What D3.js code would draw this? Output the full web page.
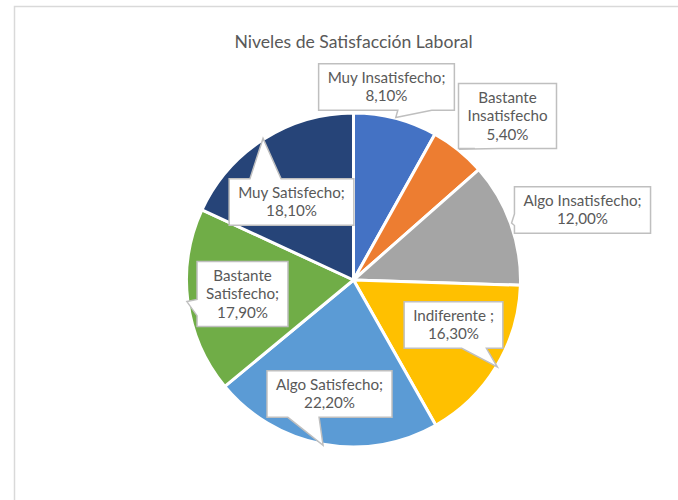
<!DOCTYPE html>
<html>
<head>
<meta charset="utf-8">
<script src="https://cdn.jsdelivr.net/npm/d3@7"></script>
<style>
  html, body { margin: 0; padding: 0; background: #fff; }
  svg { display: block; }
</style>
</head>
<body>
<svg id="chart" width="678" height="500"></svg>
<script>
// data
const categories = [
  "Muy Insatisfecho",
  "Bastante\nInsatisfecho",
  "Algo Insatisfecho",
  "Indiferente ",
  "Algo Satisfecho",
  "Bastante\nSatisfecho",
  "Muy Satisfecho"
];
const values = [8.1, 5.4, 12.0, 16.3, 22.2, 17.9, 18.1];
const separators = [";\n", "\n", ";\n", ";\n", ";\n", ";\n", ";\n"];
const colors = ["#4472C4", "#ED7D31", "#A5A5A5", "#FFC000", "#5B9BD5", "#70AD47", "#264478"];
const title = "Niveles de Satisfacción Laboral";

// label box centres, offset from pie centre (layout only)
const labelOffsets = [
  [33, -193], [154, -164], [229, -70], [100, 45], [-24, 114], [-111, 14], [-62, -78]
];

const W = 678, H = 500;
const CX = 353.5, CY = 280, R = 167;
const FONT = "Lato, 'Open Sans', sans-serif";
const TEXT = "#595959";
const LINE_H = 18.3;

const svg = d3.select("#chart");

// chart area frame
svg.append("rect")
  .attr("x", 14.5)
  .attr("y", 6.5)
  .attr("width", W + 20)
  .attr("height", H + 20)
  .attr("fill", "#fff")
  .attr("stroke", "#d9d9d9")
  .attr("stroke-width", 1.5);

svg.append("text")
  .attr("x", CX)
  .attr("y", 47.5)
  .attr("text-anchor", "middle")
  .attr("font-family", FONT)
  .attr("font-size", 17.6)
  .attr("fill", TEXT)
  .text(title);

const pct = v => d3.format(".2f")(v).replace(".", ",") + "%";

const rows = categories.map((c, i) => ({
  name: c,
  value: values[i],
  color: colors[i],
  lines: (c + separators[i] + pct(values[i])).split("\n"),
  offset: labelOffsets[i]
}));

const pie = d3.pie().sort(null).value(d => d.value);
const arc = d3.arc().innerRadius(0).outerRadius(R);
const arcs = pie(rows);

const g = svg.append("g").attr("transform", `translate(${CX},${CY})`);

g.selectAll(".slice")
  .data(arcs)
  .enter()
  .append("path")
  .attr("class", "slice")
  .attr("d", arc)
  .attr("fill", d => d.data.color)
  .attr("stroke", "#fff")
  .attr("stroke-width", 3)
  .attr("stroke-linejoin", "round");

// wedgeRectCallout outline, box centred at (cx, cy), tip at (tx, ty)
function callout(cx, cy, w, h, tx, ty) {
  const l = cx - w / 2, r = cx + w / 2, t = cy - h / 2, b = cy + h / 2;
  const dx = tx - cx, dy = ty - cy;
  const dq = dx * h / w;
  const xb1 = dx > 0 ? l + w * 7 / 12 : l + w * 2 / 12;
  const xb2 = dx > 0 ? l + w * 10 / 12 : l + w * 5 / 12;
  const yb1 = dy > 0 ? t + h * 7 / 12 : t + h * 2 / 12;
  const yb2 = dy > 0 ? t + h * 10 / 12 : t + h * 5 / 12;
  const p = d3.path();
  p.moveTo(l, t);
  if (Math.abs(dy) > Math.abs(dq) && dy < 0) {
    p.lineTo(xb1, t); p.lineTo(tx, ty); p.lineTo(xb2, t);
  }
  p.lineTo(r, t);
  if (Math.abs(dy) <= Math.abs(dq) && dx > 0) {
    p.lineTo(r, yb1); p.lineTo(tx, ty); p.lineTo(r, yb2);
  }
  p.lineTo(r, b);
  if (Math.abs(dy) > Math.abs(dq) && dy > 0) {
    p.lineTo(xb2, b); p.lineTo(tx, ty); p.lineTo(xb1, b);
  }
  p.lineTo(l, b);
  if (Math.abs(dy) <= Math.abs(dq) && dx < 0) {
    p.lineTo(l, yb2); p.lineTo(tx, ty); p.lineTo(l, yb1);
  }
  p.closePath();
  return p.toString();
}

const labels = g.selectAll(".label")
  .data(arcs)
  .enter()
  .append("g")
  .attr("class", "label");

labels.each(function(d) {
  const lg = d3.select(this);
  const [ox, oy] = d.data.offset;
  const mid = (d.startAngle + d.endAngle) / 2;
  const tx = Math.sin(mid) * (R + 1), ty = -Math.cos(mid) * (R + 1);

  const path = lg.append("path");
  const txt = lg.append("text")
    .attr("font-family", FONT)
    .attr("font-size", 15.2)
    .attr("fill", TEXT)
    .attr("text-anchor", "middle");
  const n = d.data.lines.length;
  d.data.lines.forEach((line, i) => {
    txt.append("tspan")
      .attr("x", ox)
      .attr("y", oy + (i - (n - 1) / 2) * LINE_H + 5.3)
      .text(line);
  });
  const tw = d3.max(txt.selectAll("tspan").nodes(), nd => nd.getComputedTextLength());
  const bw = tw + 18, bh = n * LINE_H + 10;
  path.attr("d", callout(ox, oy, bw, bh, tx, ty))
    .attr("fill", "#fff")
    .attr("stroke", "#bfbfbf")
    .attr("stroke-width", 1.5);
});
</script>
</body>
</html>
